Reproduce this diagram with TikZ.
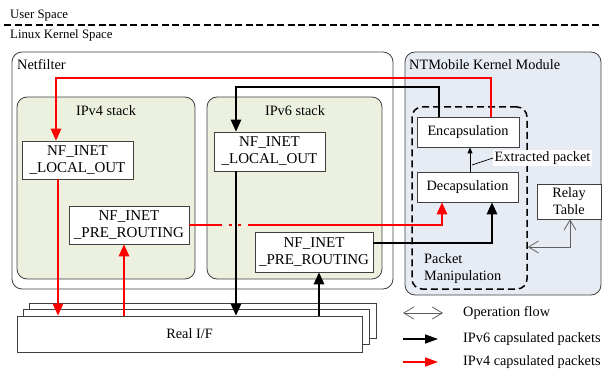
\documentclass[tikz,border=0pt]{standalone}
\usepackage{fontspec}
\setmainfont{Liberation Serif}
\usetikzlibrary{arrows.meta,calc}
\definecolor{stackgreen}{HTML}{EBF1DE}
\definecolor{modblue}{HTML}{E7ECF4}
\definecolor{bordergray}{HTML}{404040}
\begin{document}
\begin{tikzpicture}[x=1pt,y=-1pt,
  txt/.style={font=\fontsize{14.3}{17}\selectfont},
  toplabel/.style={font=\fontsize{12.8}{15}\selectfont, anchor=base west, inner sep=0},
  bigbox/.style={draw=bordergray, line width=0.8pt, rounded corners=10pt, inner sep=0},
  hookbox/.style={draw=bordergray, line width=0.8pt, fill=white, align=center, inner sep=0,
     font=\fontsize{15}{17}\selectfont},
  modbox/.style={draw=bordergray, line width=0.8pt, fill=white, align=center, inner sep=0, txt},
  arr/.style={line width=1.5pt, -{Triangle[length=12pt,width=10.5pt]}},
  legarr/.style={line width=1.5pt, -{Triangle[length=13pt,width=9pt]}},
  redarr/.style={arr, draw=red},
  blkarr/.style={arr, draw=black},
  redline/.style={line width=1.5pt, draw=red},
  opflow/.style={line width=0.8pt, draw=gray!75!black,
     {Straight Barb[length=10pt,width=12pt]}-{Straight Barb[length=10pt,width=12pt]}},
]
\useasboundingbox (0,0) rectangle (602,371);

% space labels
\node[toplabel] (user) at (10,19) {User Space};
\coordinate (dl) at (4,25);
\coordinate (dr) at (602,25);
\draw[line width=1.4pt, dash pattern=on 7pt off 3.5pt] (dl) -- (dr);
\node[toplabel] (kernel) at (10,39) {Linux Kernel Space};

% big containers
\node[bigbox, minimum width=381pt, minimum height=237pt] (netf) at (202.5,170.5) {};
\node[txt, anchor=base west, inner sep=0] (netflabel) at (17,70) {Netfilter};
\node[bigbox, fill=modblue, minimum width=196pt, minimum height=243pt] (ntm) at (503,173.5) {};
\node[txt, anchor=base west, inner sep=0] (ntmlabel) at (409,70) {NTMobile Kernel Module};

\node[bigbox, fill=stackgreen, minimum width=178pt, minimum height=182pt] (v4stack) at (106,188) {};
\node[txt, anchor=base, inner sep=0] (v4label) at (106,115.5) {IPv4 stack};
\node[bigbox, fill=stackgreen, minimum width=175pt, minimum height=182pt] (v6stack) at (294.5,188) {};
\node[txt, anchor=base, inner sep=0] (v6label) at (295,115.5) {IPv6 stack};

% packet manipulation
\node[draw=black, line width=1.5pt, dash pattern=on 7pt off 4pt, rounded corners=10pt,
      minimum width=115pt, minimum height=182pt, inner sep=0] (pm) at (469.5,198) {};
\node[txt, anchor=north west, align=left, inner sep=0] (pmlabel) at (424,253) {Packet\\Manipulation};

% hook boxes
\node[hookbox, minimum width=111pt, minimum height=38pt] (v4out) at (77.5,160) {NF\_INET\\\_LOCAL\_OUT};
\node[hookbox, minimum width=120pt, minimum height=38pt] (v4pre) at (129,225) {NF\_INET\\\_PRE\_ROUTING};
\node[hookbox, minimum width=111pt, minimum height=39pt] (v6out) at (269.5,151.5) {NF\_INET\\\_LOCAL\_OUT};
\node[hookbox, minimum width=118pt, minimum height=40pt] (v6pre) at (314,252) {NF\_INET\\\_PRE\_ROUTING};

% module boxes
\node[modbox, minimum width=102pt, minimum height=30pt] (encap) at (468,132) {Encapsulation};
\node[modbox, minimum width=101pt, minimum height=30pt] (decap) at (467.5,187) {Decapsulation};
\node[modbox, minimum width=64pt, minimum height=35pt] (relay) at (569,201.5) {Relay\\Table};

% Real I/F stack
\node[draw=bordergray, line width=0.8pt, fill=white, minimum width=347pt, minimum height=35pt, inner sep=0] (realif3) at (202.5,320.5) {};
\node[draw=bordergray, line width=0.8pt, fill=white, minimum width=346pt, minimum height=35pt, inner sep=0] (realif2) at (196,326.5) {};
\node[modbox, minimum width=345pt, minimum height=36pt] (realif) at (189.5,334) {Real I/F};

% extracted packet label
\node[txt, fill=white, anchor=west, inner sep=1.5pt] (extr) at (493,158) {Extracted packet};
\coordinate (lead) at (472,165);
\draw[line width=0.7pt] (lead) -- (extr.west);
\coordinate (e1) at (470,0);
\draw[line width=0.8pt, -{Triangle[length=6pt,width=5pt]}] (decap.north -| e1) -- (encap.south -| e1);

% red IPv4 flows
\coordinate (r1) at (491,78);
\coordinate (r2) at (56,78);
\draw[redarr] (encap.north -| r1) |- (r2) -- (v4out.north -| r2);
\coordinate (r3) at (58,0);
\draw[redarr] (v4out.south -| r3) -- (realif.north -| r3);
\coordinate (r4) at (124,0);
\draw[redarr] (realif.north -| r4) -- (v4pre.south -| r4);
\coordinate (rd1) at (221.5,225);
\coordinate (rd2) at (228.5,225);
\coordinate (rd3) at (231.5,225);
\coordinate (rd4) at (238,225);
\coordinate (rd5) at (241,225);
\coordinate (rd6) at (248,225);
\coordinate (rd7) at (442,0);
\draw[redline] (v4pre.east) -- (rd1);
\draw[redline, line width=2pt] (rd2) -- (rd3);
\draw[redline, line width=2pt] (rd4) -- (rd5);
\draw[redarr] (rd6) -| (decap.south -| rd7);

% black IPv6 flows
\coordinate (b1) at (439,87);
\coordinate (b2) at (236,87);
\draw[blkarr] (encap.north -| b1) |- (b2) -- (v6out.north -| b2);
\draw[blkarr] (v6out.south -| b2) -- (realif.north -| b2);
\coordinate (b3) at (319,0);
\draw[blkarr] (realif.north -| b3) -- (v6pre.south -| b3);
\coordinate (b4) at (492,0);
\coordinate (b5) at (0,243);
\draw[blkarr] (v6pre.east |- b5) -| (decap.south -| b4);

% operation flow
\coordinate (o1) at (570,247);
\draw[opflow] (relay.south -| o1) |- (pm.east |- o1);

% legend
\coordinate (l1a) at (403,313);
\coordinate (l1b) at (443,313);
\draw[opflow] (l1a) -- (l1b);
\node[txt, anchor=west, inner sep=0] (leg1) at (463,313) {Operation flow};
\coordinate (l2a) at (403,339);
\coordinate (l2b) at (438,339);
\draw[legarr, draw=black] (l2a) -- (l2b);
\node[txt, anchor=west, inner sep=0] (leg2) at (463,339) {IPv6 capsulated packets};
\coordinate (l3a) at (403,362);
\coordinate (l3b) at (438,362);
\draw[legarr, draw=red] (l3a) -- (l3b);
\node[txt, anchor=west, inner sep=0] (leg3) at (463,362) {IPv4 capsulated packets};
\end{tikzpicture}
\end{document}
